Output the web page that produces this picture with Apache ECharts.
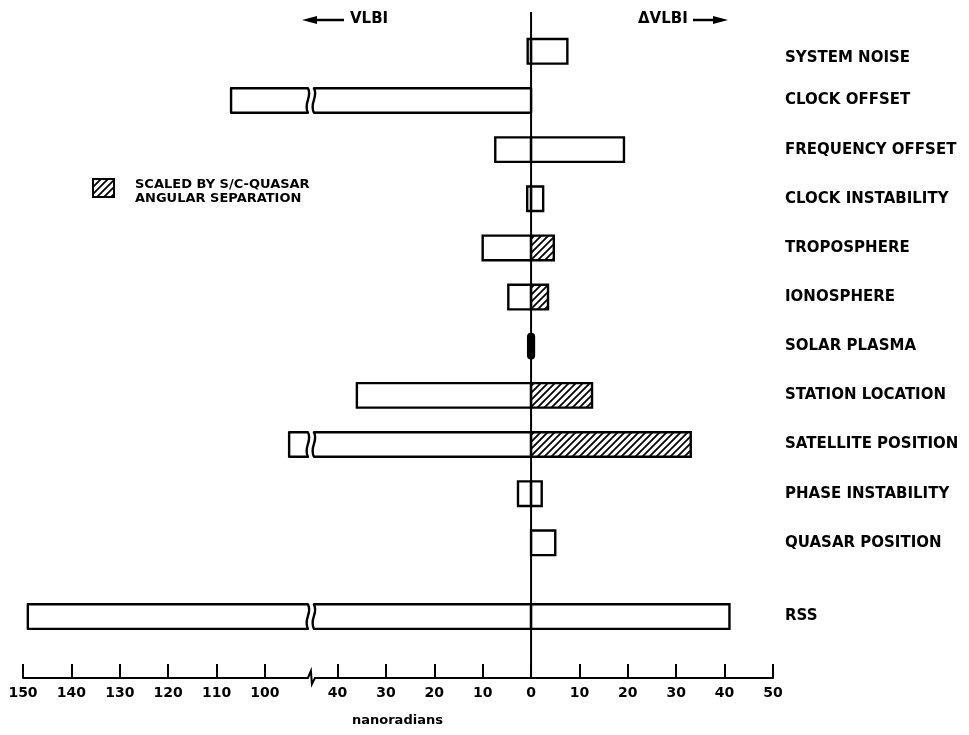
<!DOCTYPE html>
<html>
<head>
<meta charset="utf-8">
<script src="https://cdn.jsdelivr.net/npm/echarts@6/dist/echarts.min.js"></script>
<style>html,body{margin:0;padding:0;background:#fff}#c{width:969px;height:735px}</style>
</head>
<body>
<div id="c"></div>
<script>
// ---- data ----
const categories = ['SYSTEM NOISE','CLOCK OFFSET','FREQUENCY OFFSET','CLOCK INSTABILITY','TROPOSPHERE','IONOSPHERE','SOLAR PLASMA','STATION LOCATION','SATELLITE POSITION','PHASE INSTABILITY','QUASAR POSITION','RSS'];
const rowPos = [0,1,2,3,4,5,6,7,8,9,10,11.5];
const vlbi  = [0.7,107,7.4,0.8,10,4.7,0.6,36,95,2.7,0,149];     // plotted to the left
const dvlbi = [7.5,0,19.2,2.5,4.7,3.5,0.6,12.6,33,2.2,5,41];    // plotted to the right
const scaled = [0,0,0,0,1,1,0,1,1,0,0,0];   // hatched ΔVLBI part
const filled = [0,0,0,0,0,0,1,0,0,0,0,0];   // solid black bar
const tickVals = [-150,-140,-130,-120,-110,-100,-40,-30,-20,-10,0,10,20,30,40,50];
const BREAK_LO = 45, BREAK_HI = 90; // left axis break: values between are skipped

// display coordinate of a signed value (left side negative, axis broken)
function disp(v){ if(v>=0) return v; const a=-v; return a<=BREAK_LO ? -a : -(a-(BREAK_HI-BREAK_LO)); }
function undisp(x){ if(x>=0) return x; const a=-x; return a<=BREAK_LO ? a : a+(BREAK_HI-BREAK_LO); }
const BREAK_X = -45.5;

function makeHatch(){
  const c=document.createElement('canvas'); c.width=7; c.height=7;
  const g=c.getContext('2d'); g.fillStyle='#fff'; g.fillRect(0,0,7,7);
  g.strokeStyle='#000'; g.lineWidth=1.8; g.lineCap='square';
  [-7,0,7].forEach(o=>{ g.beginPath(); g.moveTo(o-1,8); g.lineTo(o+8,-1); g.stroke(); });
  return c;
}
const hatch = {image: makeHatch(), repeat:'repeat'};

const barData = rowPos.map((y,i)=>[y, vlbi[i], dvlbi[i], scaled[i], filled[i]]);

const chart = echarts.init(document.getElementById('c'), null, {renderer:'canvas'});
const FONT = '"DejaVu Sans", sans-serif';

function renderBar(params, api){
  const y=api.value(0), v=api.value(1), d=api.value(2), sc=api.value(3), fl=api.value(4);
  const h = api.size([0,0.5])[1];
  const p0 = api.coord([0,y]);
  const top = p0[1]-h/2, bot = p0[1]+h/2;
  const children=[];
  const lw=2.4;
  if(fl){
    const pl=api.coord([disp(-v),y])[0], pr=api.coord([d,y])[0];
    children.push({type:'rect', shape:{x:pl,y:top,width:pr-pl,height:h,r:3}, style:{fill:'#000',stroke:'#000',lineWidth:lw}});
    return {type:'group', children};
  }
  if(v>0){
    const pl=api.coord([disp(-v),y])[0];
    if(v>BREAK_HI){
      const bx=api.coord([BREAK_X,y])[0];
      const a=bx-3, b=bx+3;
      const leftPath = `M${pl} ${top} L${a} ${top} C${a+5} ${top+h*0.35} ${a-5} ${top+h*0.6} ${a} ${bot} L${pl} ${bot} Z`;
      const rightPath = `M${b} ${top} L${p0[0]} ${top} L${p0[0]} ${bot} L${b} ${bot} C${b-5} ${top+h*0.6} ${b+5} ${top+h*0.35} ${b} ${top} Z`;
      children.push({type:'path', shape:{pathData:leftPath}, style:{fill:'#fff',stroke:'#000',lineWidth:lw,lineJoin:'round'}});
      children.push({type:'path', shape:{pathData:rightPath}, style:{fill:'#fff',stroke:'#000',lineWidth:lw,lineJoin:'round'}});
    } else {
      children.push({type:'rect', shape:{x:pl,y:top,width:p0[0]-pl,height:h}, style:{fill:'#fff',stroke:'#000',lineWidth:lw}});
    }
  }
  if(d>0){
    const pr=api.coord([d,y])[0];
    children.push({type:'rect', shape:{x:p0[0],y:top,width:pr-p0[0],height:h}, style:{fill: sc? hatch : '#fff',stroke:'#000',lineWidth:lw}});
  }
  return {type:'group', children};
}

function renderAxisBreak(params, api){
  const p=api.coord([BREAK_X, 12.75]);
  const x=p[0], y=p[1];
  return {type:'group', children:[
    {type:'rect', shape:{x:x-5,y:y-3,width:10,height:6}, style:{fill:'#fff'}},
    {type:'polyline', shape:{points:[[x-8,y],[x-3,y],[x,y-7],[x+1,y+6],[x+4,y],[x+9,y]]}, style:{fill:null,stroke:'#000',lineWidth:2}}
  ]};
}

chart.setOption({
  animation:false,
  backgroundColor:'#fff',
  grid:{left:23,right:196,top:12,bottom:57},
  xAxis:{
    type:'value', min:-105, max:50,
    splitLine:{show:false},
    axisLine:{show:true,onZero:false,lineStyle:{color:'#000',width:2}},
    axisTick:{show:true,inside:true,length:14,lineStyle:{color:'#000',width:2},customValues:tickVals.map(disp)},
    axisLabel:{customValues:tickVals.map(disp), formatter:v=>String(Math.round(Math.abs(undisp(v)))), color:'#000', fontFamily:FONT, fontWeight:'bold', fontSize:14, margin:8}
  },
  yAxis:{
    type:'value', inverse:true, min:-0.8, max:12.75, position:'right',
    splitLine:{show:false}, axisLine:{show:false}, axisTick:{show:false},
    axisLabel:{customValues:rowPos, formatter:v=>{const i=rowPos.findIndex(r=>Math.abs(r-v)<1e-6); if(i<0) return ''; return i===0 ? '{low|'+categories[i]+'}' : categories[i];},
      rich:{low:{padding:[14,0,0,0], color:'#000', fontFamily:FONT, fontWeight:'bold', fontSize:15}},
      color:'#000', fontFamily:FONT, fontWeight:'bold', fontSize:15, margin:12, align:'left'}
  },
  series:[
    {type:'custom', renderItem:renderBar, data:barData, clip:false, z:2},
    {type:'line', data:[[0,-0.8],[0,12.75]], symbol:'none', lineStyle:{color:'#000',width:2}, z:5, silent:true},
    {type:'custom', renderItem:renderAxisBreak, data:[[0]], clip:false, z:6}
  ],
  graphic:[
    // top direction labels
    {type:'text', left:350, top:12, style:{text:'VLBI', fill:'#000', font:'bold 15px '+FONT}},
    {type:'line', shape:{x1:308,y1:20,x2:344,y2:20}, style:{stroke:'#000',lineWidth:2.5}},
    {type:'polygon', shape:{points:[[302,20],[317,16],[317,24]]}, style:{fill:'#000'}},
    {type:'text', left:638, top:12, style:{text:'ΔVLBI', fill:'#000', font:'bold 15px '+FONT}},
    {type:'line', shape:{x1:693,y1:20,x2:722,y2:20}, style:{stroke:'#000',lineWidth:2.5}},
    {type:'polygon', shape:{points:[[728,20],[713,16],[713,24]]}, style:{fill:'#000'}},
    // legend
    {type:'rect', shape:{x:93,y:179,width:21,height:18}, style:{fill:hatch, stroke:'#000', lineWidth:2}},
    {type:'text', left:135, top:178, style:{text:'SCALED BY S/C-QUASAR\nANGULAR SEPARATION', fill:'#000', font:'bold 13px '+FONT, lineHeight:14}},
    // axis title
    {type:'text', left:352, top:714, style:{text:'nanoradians', fill:'#000', font:'bold 13px '+FONT}}
  ]
});
</script>
</body>
</html>
